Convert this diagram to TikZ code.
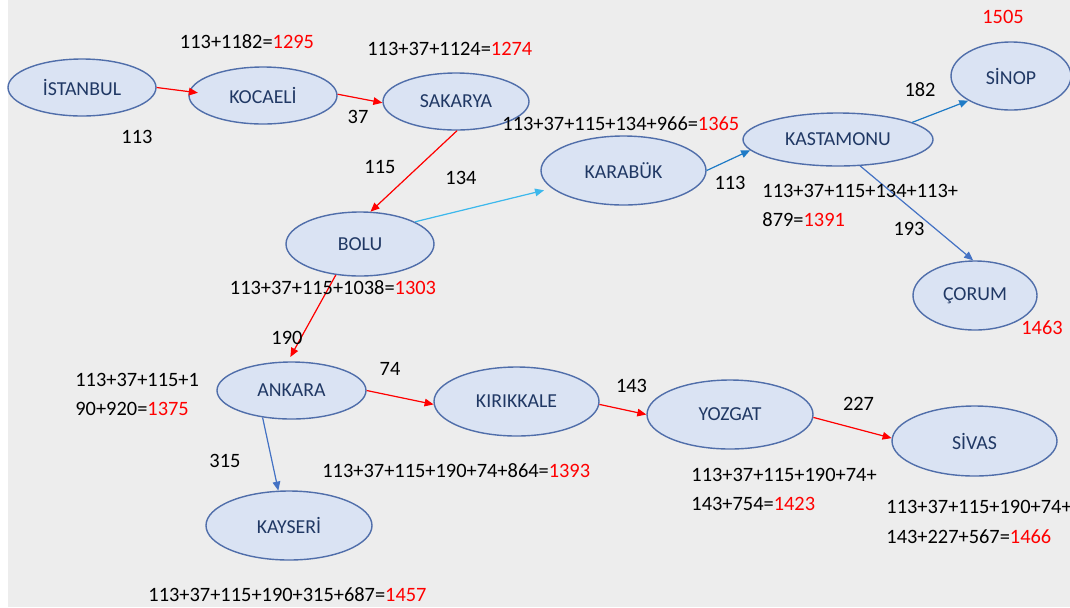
\documentclass[tikz,border=0pt]{standalone}
\usepackage{fontspec}
\setmainfont{Carlito}
\usetikzlibrary{arrows.meta,shapes.geometric}
\definecolor{bgc}{RGB}{237,237,237}
\definecolor{cityfill}{RGB}{218,227,243}
\definecolor{cityborder}{RGB}{80,110,170}
\definecolor{citytext}{RGB}{32,56,100}
\definecolor{redline}{RGB}{255,0,0}
\definecolor{skyline}{RGB}{60,184,236}
\definecolor{midblue}{RGB}{31,123,198}
\definecolor{steel}{RGB}{68,114,196}
\begin{document}
\begin{tikzpicture}[x=0.5pt,y=-0.5pt,
  city/.style={ellipse,draw=cityborder,fill=cityfill,line width=0.7pt,inner sep=0pt,
    text=citytext,font=\fontsize{9.9}{12}\selectfont},
  lbl/.style={inner sep=0pt,font=\fontsize{10.2}{14.6}\selectfont,text=black,align=left},
  conn/.style={line width=0.6pt,-{Triangle[length=4.5pt,width=3.8pt]}},
  rconn/.style={conn,draw=redline,fill=redline},
  sconn/.style={conn,draw=skyline,fill=skyline},
  mconn/.style={conn,draw=midblue,fill=midblue},
  tconn/.style={conn,draw=steel,fill=steel}]
\useasboundingbox (0,0) rectangle (1070,607);
\fill[white] (0,0) rectangle (1070,607);
\fill[bgc] (8,0) rectangle (1070,607);

% cities
\node[city,minimum width=74pt,minimum height=28.5pt] (ist) at (82,87.5) {İSTANBUL};
\node[city,minimum width=74pt,minimum height=28.5pt] (koc) at (263,95.5) {KOCAELİ};
\node[city,minimum width=73pt,minimum height=28.5pt] (sak) at (456,101.5) {SAKARYA};
\node[city,minimum width=74pt,minimum height=32pt] (bolu) at (360,244) {BOLU};
\node[city,minimum width=82.5pt,minimum height=34.5pt] (kar) at (623.5,170.5) {KARABÜK};
\node[city,minimum width=95pt,minimum height=26.5pt] (kas) at (838,139.5) {KASTAMONU};
\node[city,minimum width=60pt,minimum height=34pt] (sin) at (1011,76) {SİNOP};
\node[city,minimum width=62pt,minimum height=34.5pt] (cor) at (975,295.5) {ÇORUM};
\node[city,minimum width=74.5pt,minimum height=28.5pt] (ank) at (291.5,390.5) {ANKARA};
\node[city,minimum width=82.5pt,minimum height=34.5pt] (kir) at (516.5,401.5) {KIRIKKALE};
\node[city,minimum width=83pt,minimum height=34.5pt] (yoz) at (730,414.5) {YOZGAT};
\node[city,minimum width=82.5pt,minimum height=35pt] (siv) at (974.5,441) {SİVAS};
\node[city,minimum width=83pt,minimum height=34.5pt] (kay) at (289,525.5) {KAYSERİ};

% connectors
\draw[rconn,shorten >=-4.5pt] (ist.0) -- (koc.177);
\draw[rconn] (koc.1) -- (sak.181);
\draw[rconn] (sak.-88) -- (bolu.72);
\draw[sconn,shorten >=4pt] (bolu.22.5) -- (kar.194.6);
\draw[mconn] (kar.0) -- (kas.187.7);
\draw[mconn] (kas.13.7) -- (sin.210.2);
\draw[tconn] (kas.-50.7) -- (cor.93);
\draw[rconn,shorten >=2.5pt] (bolu.-128) -- (ank.97.7);
\draw[rconn] (ank.0) -- (kir.182);
\draw[tconn] (ank.-137) -- (kay.107);
\draw[rconn] (kir.-2) -- (yoz.180);
\draw[rconn] (yoz.-2) -- (siv.178);

% labels
\node[lbl] (t1) at (247,42) {113+1182=\textcolor{red}{1295}};
\node[lbl,anchor=west] (t2) at (367,49) {113+37+1124=\textcolor{red}{1274}};
\node[lbl] (d1) at (137,137) {113};
\node[lbl] (d2) at (358,117) {37};
\node[lbl] (d3) at (380,167) {115};
\node[lbl] (d4) at (461,178) {134};
\node[lbl,anchor=west] (t3) at (502,124) {113+37+115+134+966=\textcolor{red}{1365}};
\node[lbl] (d5) at (730,183) {113};
\node[lbl] (d6) at (920,90) {182};
\node[lbl] (t4) at (1003,17) {\textcolor{red}{1505}};
\node[lbl,anchor=west] (t5) at (762,205.5) {113+37+115+134+113+\\879=\textcolor{red}{1391}};
\node[lbl] (d7) at (909,229) {193};
\node[lbl] (t6) at (1042,328) {\textcolor{red}{1463}};
\node[lbl] (t7) at (333,288) {113+37+115+1038=\textcolor{red}{1303}};
\node[lbl] (d8) at (287,338) {190};
\node[lbl] (d9) at (390,369) {74};
\node[lbl,anchor=west] (t8) at (75,394.5) {113+37+115+1\\90+920=\textcolor{red}{1375}};
\node[lbl] (d10) at (225,461) {315};
\node[lbl,anchor=west] (t9) at (322,471) {113+37+115+190+74+864=\textcolor{red}{1393}};
\node[lbl] (d11) at (631.5,386) {143};
\node[lbl] (d12) at (858.5,404) {227};
\node[lbl,anchor=west] (t10) at (691,489.5) {113+37+115+190+74+\\143+754=\textcolor{red}{1423}};
\node[lbl,anchor=west] (t11) at (886,522) {113+37+115+190+74+\\143+227+567=\textcolor{red}{1466}};
\node[lbl] (t12) at (287.5,595) {113+37+115+190+315+687=\textcolor{red}{1457}};
\end{tikzpicture}
\end{document}
